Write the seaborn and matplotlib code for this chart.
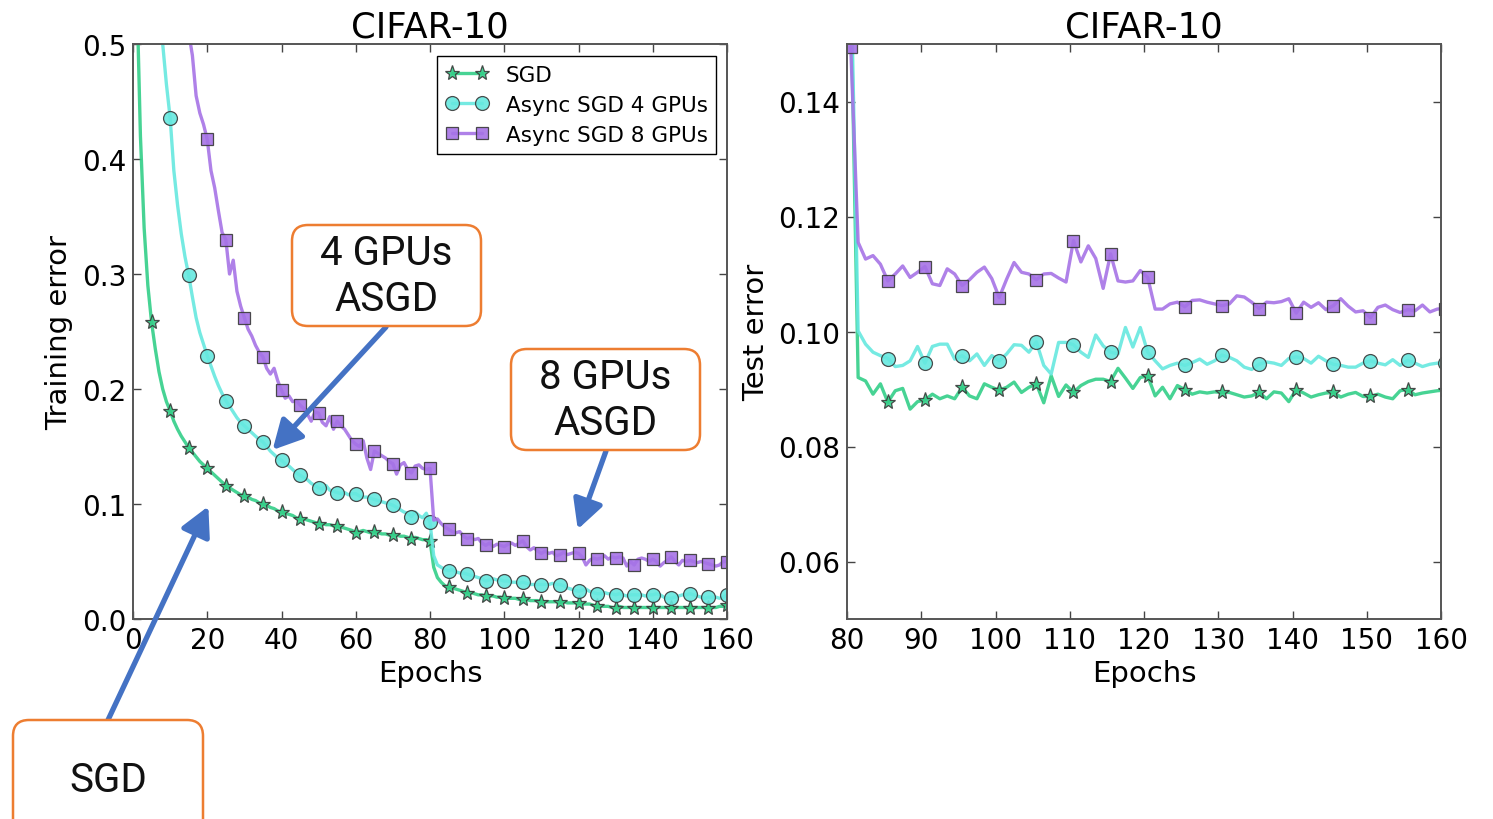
import numpy as np
import matplotlib
matplotlib.use("Agg")
import matplotlib.pyplot as plt
import seaborn as sns
from matplotlib.patches import FancyBboxPatch
from matplotlib.transforms import IdentityTransform

# ---------------- data ----------------
train_epochs = list(range(0, 161))

train_sgd = [
    0.90, 0.55, 0.42, 0.34, 0.29, 0.258, 0.235, 0.215, 0.200, 0.189, 0.181,
    0.172, 0.165, 0.159, 0.154, 0.149, 0.145, 0.141, 0.137, 0.134, 0.131,
    0.128, 0.125, 0.122, 0.119, 0.116, 0.114, 0.112, 0.110, 0.108, 0.107,
    0.106, 0.104, 0.103, 0.101, 0.100, 0.099, 0.097, 0.096, 0.094, 0.093,
    0.092, 0.091, 0.090, 0.088, 0.087, 0.087, 0.086, 0.085, 0.084, 0.083,
    0.083, 0.082, 0.082, 0.081, 0.081, 0.080, 0.079, 0.078, 0.077, 0.075,
    0.076, 0.077, 0.076, 0.075, 0.076, 0.075, 0.074, 0.074, 0.073, 0.073,
    0.073, 0.072, 0.072, 0.071, 0.070, 0.071, 0.070, 0.069, 0.069, 0.068,
    0.045, 0.036, 0.032, 0.029, 0.0275, 0.027, 0.026, 0.025, 0.024, 0.023,
    0.023, 0.022, 0.021, 0.021, 0.020, 0.020, 0.020, 0.019, 0.019, 0.018,
    0.018, 0.018, 0.018, 0.017, 0.017, 0.017, 0.016, 0.016, 0.016, 0.015,
    0.015, 0.015, 0.015, 0.015, 0.0145, 0.015, 0.014, 0.014, 0.014, 0.014,
    0.013, 0.013, 0.013, 0.012, 0.011, 0.011, 0.011, 0.011, 0.010, 0.010,
    0.011, 0.010, 0.010, 0.010, 0.010, 0.010, 0.010, 0.010, 0.010, 0.010,
    0.010, 0.010, 0.010, 0.010, 0.010, 0.010, 0.010, 0.010, 0.010, 0.010,
    0.010, 0.010, 0.010, 0.010, 0.010, 0.010, 0.010, 0.011, 0.011, 0.012,
]

train_async4 = [
    0.90, 0.88, 0.80, 0.72, 0.66, 0.61, 0.57, 0.53, 0.50, 0.465, 0.436,
    0.39, 0.36, 0.335, 0.315, 0.299, 0.28, 0.262, 0.249, 0.239, 0.229,
    0.220, 0.211, 0.203, 0.196, 0.190, 0.185, 0.180, 0.175, 0.171, 0.168,
    0.165, 0.162, 0.159, 0.156, 0.154, 0.150, 0.146, 0.143, 0.140, 0.138,
    0.135, 0.133, 0.130, 0.127, 0.125, 0.123, 0.121, 0.118, 0.116, 0.114,
    0.113, 0.116, 0.112, 0.111, 0.110, 0.109, 0.110, 0.108, 0.109, 0.109,
    0.107, 0.106, 0.106, 0.105, 0.104, 0.103, 0.102, 0.101, 0.100, 0.099,
    0.097, 0.095, 0.093, 0.092, 0.089, 0.093, 0.090, 0.088, 0.092, 0.084,
    0.055, 0.047, 0.045, 0.043, 0.042, 0.043, 0.041, 0.040, 0.040, 0.039,
    0.038, 0.037, 0.036, 0.035, 0.033, 0.034, 0.035, 0.034, 0.034, 0.033,
    0.033, 0.032, 0.032, 0.031, 0.032, 0.031, 0.030, 0.030, 0.030, 0.030,
    0.030, 0.030, 0.031, 0.030, 0.030, 0.029, 0.027, 0.026, 0.025, 0.024,
    0.025, 0.026, 0.024, 0.023, 0.022, 0.022, 0.023, 0.022, 0.022, 0.021,
    0.022, 0.021, 0.020, 0.021, 0.021, 0.021, 0.021, 0.020, 0.021, 0.021,
    0.022, 0.021, 0.019, 0.018, 0.018, 0.019, 0.020, 0.021, 0.021, 0.022,
    0.021, 0.020, 0.019, 0.018, 0.019, 0.019, 0.019, 0.018, 0.019, 0.021,
]

train_async8 = [
    0.90, 0.89, 0.87, 0.85, 0.82, 0.79, 0.76, 0.73, 0.70, 0.67, 0.64,
    0.61, 0.58, 0.555, 0.53, 0.51, 0.49, 0.455, 0.44, 0.43, 0.417,
    0.39, 0.375, 0.355, 0.336, 0.330, 0.300, 0.312, 0.285, 0.272, 0.262,
    0.252, 0.246, 0.238, 0.232, 0.228, 0.218, 0.213, 0.218, 0.207, 0.199,
    0.192, 0.194, 0.189, 0.190, 0.186, 0.183, 0.178, 0.172, 0.180, 0.179,
    0.171, 0.168, 0.176, 0.165, 0.172, 0.168, 0.165, 0.160, 0.155, 0.152,
    0.150, 0.155, 0.140, 0.130, 0.146, 0.144, 0.142, 0.140, 0.137, 0.135,
    0.126, 0.134, 0.136, 0.130, 0.127, 0.133, 0.134, 0.131, 0.130, 0.131,
    0.086, 0.087, 0.083, 0.080, 0.078, 0.076, 0.075, 0.076, 0.072, 0.070,
    0.071, 0.069, 0.070, 0.066, 0.064, 0.066, 0.063, 0.065, 0.064, 0.063,
    0.065, 0.066, 0.064, 0.066, 0.068, 0.063, 0.060, 0.062, 0.059, 0.057,
    0.059, 0.057, 0.058, 0.055, 0.056, 0.058, 0.056, 0.057, 0.058, 0.057,
    0.054, 0.047, 0.051, 0.053, 0.052, 0.053, 0.055, 0.052, 0.054, 0.053,
    0.054, 0.053, 0.046, 0.050, 0.047, 0.052, 0.053, 0.052, 0.050, 0.052,
    0.050, 0.046, 0.049, 0.051, 0.054, 0.050, 0.047, 0.051, 0.050, 0.051,
    0.050, 0.049, 0.050, 0.049, 0.048, 0.047, 0.046, 0.047, 0.050, 0.050,
]

# test error is logged half-way through each epoch after the LR drop
test_epochs = [e + 0.5 for e in range(80, 161)]

test_sgd = [
    0.160,
    0.0920, 0.0914, 0.0891, 0.0909, 0.0877, 0.0897, 0.0901, 0.0865, 0.0878, 0.0881,
    0.0891, 0.0883, 0.0888, 0.0883, 0.0903, 0.0888, 0.0883, 0.0909, 0.0903, 0.0898,
    0.0903, 0.0912, 0.0894, 0.0903, 0.0909, 0.0876, 0.0923, 0.0887, 0.0907, 0.0894,
    0.0906, 0.0913, 0.0917, 0.0917, 0.0913, 0.0936, 0.0919, 0.0901, 0.0920, 0.0923,
    0.0888, 0.0903, 0.0883, 0.0906, 0.0899, 0.0891, 0.0895, 0.0893, 0.0895, 0.0894,
    0.0894, 0.0890, 0.0886, 0.0888, 0.0894, 0.0883, 0.0895, 0.0893, 0.0878, 0.0899,
    0.0893, 0.0886, 0.0890, 0.0893, 0.0894, 0.0886, 0.0891, 0.0894, 0.0887, 0.0887,
    0.0891, 0.0886, 0.0883, 0.0897, 0.0899, 0.0890, 0.0893, 0.0895, 0.0897, 0.0898,
]

test_async4 = [
    0.165,
    0.1001, 0.0978, 0.0964, 0.0958, 0.0953, 0.0939, 0.0941, 0.0949, 0.0974, 0.0945,
    0.0974, 0.0978, 0.0978, 0.0952, 0.0958, 0.0949, 0.0961, 0.0941, 0.0958, 0.0949,
    0.0961, 0.0977, 0.0976, 0.0964, 0.0982, 0.0941, 0.0926, 0.0981, 0.0981, 0.0977,
    0.0964, 0.0955, 0.0994, 0.0975, 0.0964, 0.0961, 0.1007, 0.0973, 0.1007, 0.0964,
    0.0949, 0.0935, 0.0941, 0.0945, 0.0941, 0.0946, 0.0952, 0.0943, 0.0949, 0.0959,
    0.0955, 0.0949, 0.0938, 0.0934, 0.0943, 0.0947, 0.0945, 0.0941, 0.0953, 0.0956,
    0.0953, 0.0945, 0.0957, 0.0949, 0.0943, 0.0941, 0.0938, 0.0938, 0.0945, 0.0949,
    0.0945, 0.0942, 0.0951, 0.0941, 0.0950, 0.0945, 0.0939, 0.0943, 0.0945, 0.0945,
]

test_async8 = [
    0.1495,
    0.1155, 0.1126, 0.1132, 0.1117, 0.1088, 0.1100, 0.1114, 0.1094, 0.1103, 0.1113,
    0.1083, 0.1080, 0.1109, 0.1100, 0.1080, 0.1090, 0.1103, 0.1112, 0.1092, 0.1059,
    0.1091, 0.1120, 0.1103, 0.1100, 0.1090, 0.1100, 0.1101, 0.1093, 0.1086, 0.1158,
    0.1121, 0.1149, 0.1127, 0.1075, 0.1135, 0.1088, 0.1086, 0.1088, 0.1106, 0.1094,
    0.1039, 0.1039, 0.1048, 0.1051, 0.1043, 0.1054, 0.1055, 0.1051, 0.1048, 0.1045,
    0.1048, 0.1062, 0.1060, 0.1051, 0.1040, 0.1051, 0.1050, 0.1052, 0.1057, 0.1032,
    0.1051, 0.1042, 0.1050, 0.1038, 0.1045, 0.1057, 0.1044, 0.1034, 0.1036, 0.1024,
    0.1042, 0.1046, 0.1038, 0.1033, 0.1038, 0.1036, 0.1046, 0.1034, 0.1039, 0.1040,
]

series_names = ["SGD", "Async SGD 4 GPUs", "Async SGD 8 GPUs"]
series_colors = ["#33cf88", "#66e8df", "#a673e6"]
series_markers = ["*", "o", "s"]
series_msize = [11, 10, 9]

train_ticks = [0, 20, 40, 60, 80, 100, 120, 140, 160]
test_ticks = [80, 90, 100, 110, 120, 130, 140, 150, 160]

# ---------------- style ----------------
sns.set_style("white")
plt.rcParams.update({
    "font.family": ["DejaVu Sans"],
    "text.color": "black",
    "axes.labelcolor": "black",
    "axes.titlecolor": "black",
    "xtick.direction": "in",
    "ytick.direction": "in",
    "xtick.bottom": True,
    "ytick.left": True,
    "xtick.top": True,
    "ytick.right": True,
    "xtick.major.size": 6,
    "ytick.major.size": 6,
    "xtick.major.width": 1.0,
    "ytick.major.width": 1.0,
    "xtick.color": "#444444",
    "ytick.color": "#444444",
    "xtick.labelcolor": "black",
    "ytick.labelcolor": "black",
    "xtick.major.pad": 5,
    "ytick.major.pad": 5,
    "axes.edgecolor": "#555555",
    "axes.linewidth": 1.4,
})

W, H = 1493, 820
fig = plt.figure(figsize=(W / 100, H / 100), dpi=100)
fig.patch.set_facecolor("white")

ax1 = fig.add_axes([133 / W, 1 - 620 / H, 594 / W, 575 / H])
ax2 = fig.add_axes([847 / W, 1 - 620 / H, 594 / W, 575 / H])


def draw_series(ax, x, ys):
    for name, y, col, mk, ms in zip(series_names, ys, series_colors,
                                    series_markers, series_msize):
        sns.lineplot(x=x, y=y, ax=ax, color=col, linewidth=2.4, alpha=0.9,
                     marker=mk, markevery=5, markersize=ms,
                     markerfacecolor=col, markeredgecolor="#3a3a3a",
                     markeredgewidth=0.9, label=name, legend=False)


draw_series(ax1, train_epochs, [train_sgd, train_async4, train_async8])
draw_series(ax2, test_epochs, [test_sgd, test_async4, test_async8])

ax1.set_xlim(0, 160)
ax1.set_ylim(0.0, 0.5)
ax1.set_xticks(train_ticks)
ax1.set_yticks([0.0, 0.1, 0.2, 0.3, 0.4, 0.5])
ax1.set_yticklabels(["0.0", "0.1", "0.2", "0.3", "0.4", "0.5"])

ax2.set_xlim(80, 160)
ax2.set_ylim(0.05, 0.15)
ax2.set_xticks(test_ticks)
ax2.set_yticks([0.06, 0.08, 0.10, 0.12, 0.14])
ax2.set_yticklabels(["0.06", "0.08", "0.10", "0.12", "0.14"])

for ax, ylab in [(ax1, "Training error"), (ax2, "Test error")]:
    ax.tick_params(labelsize=20)
    ax.set_title("CIFAR-10", fontsize=25.5, pad=5, color="black")
    ax.set_xlabel("Epochs", fontsize=21, labelpad=4)
    ax.set_ylabel(ylab, fontsize=21, labelpad=6)
    for sp in ax.spines.values():
        sp.set_visible(True)

handles = ax1.get_lines()[:3]
leg = ax1.legend(handles, series_names, loc="upper right",
                 bbox_to_anchor=(0.982, 0.979), borderaxespad=0,
                 numpoints=2, fontsize=15.5, frameon=True, fancybox=False,
                 framealpha=1, edgecolor="black", handlelength=2.0,
                 handletextpad=0.8, labelspacing=0.47, borderpad=0.4)
leg.get_frame().set_linewidth(1.0)

# ---------------- callouts ----------------
BOX_EC = "#ed7d31"
ARROW_C = "#4472c4"
note_font = dict(family=["Roboto", "DejaVu Sans"], fontsize=29,
                 fontweight="normal", color="#111111")


def callout(x0, y0, x1, y1, text):
    # box given in pixel coordinates measured from the top-left corner
    patch = FancyBboxPatch((x0, H - y1), x1 - x0, y1 - y0,
                           boxstyle="round,pad=0,rounding_size=16",
                           ec=BOX_EC, fc="white", lw=1.8,
                           transform=IdentityTransform(), zorder=5)
    fig.add_artist(patch)
    fig.text((x0 + x1) / 2 / W, 1 - (y0 + y1) / 2 / H, text, ha="center",
             va="center", linespacing=1.25, zorder=6, **note_font)


def pointer(ax, start_px, target):
    ax.annotate("", xy=target, xycoords="data",
                xytext=(start_px[0], H - start_px[1]),
                textcoords="figure pixels",
                arrowprops=dict(arrowstyle="-|>,head_length=0.8,head_width=0.42",
                                color=ARROW_C, lw=3.8, shrinkA=0, shrinkB=0,
                                mutation_scale=22),
                annotation_clip=False, zorder=7)


callout(292, 226, 481, 327, "4 GPUs\nASGD")
callout(511, 350, 700, 451, "8 GPUs\nASGD")
callout(13, 721, 203, 840, "SGD")

pointer(ax1, (386, 328), (37.6, 0.147))
pointer(ax1, (606, 452), (119.8, 0.078))
pointer(ax1, (108, 721), (20.3, 0.098))

fig.savefig("out.png", dpi=100, facecolor="white")
